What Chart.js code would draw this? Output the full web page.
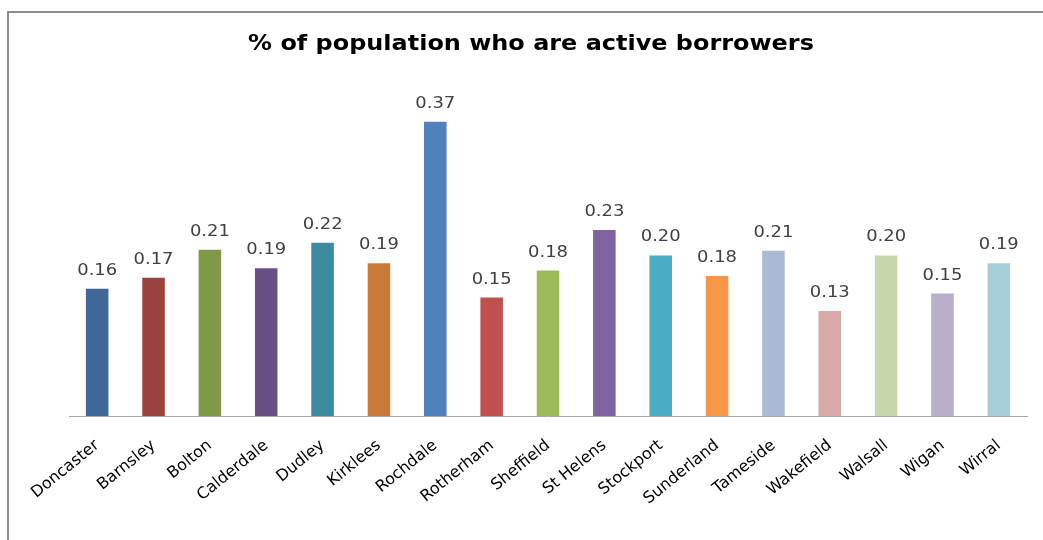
<!DOCTYPE html>
<html>
<head>
<meta charset="utf-8">
<script src="https://cdn.jsdelivr.net/npm/chart.js@4.4.0/dist/chart.umd.min.js"></script>
<style>
  html, body { margin: 0; padding: 0; background: #ffffff; overflow: hidden; }
  #wrap { position: relative; width: 1043px; height: 540px; }
  #frame { position: absolute; left: 7px; top: 11px; width: 1200px; height: 700px;
           border: 2px solid #8c8c8c; pointer-events: none; box-sizing: border-box; }
  canvas { position: absolute; left: 0; top: 0; }
</style>
</head>
<body>
<div id="wrap">
  <canvas id="c" width="1043" height="540"></canvas>
  <div id="frame"></div>
</div>
<script>
const chartTitle = "% of population who are active borrowers";
const categories = ["Doncaster", "Barnsley", "Bolton", "Calderdale", "Dudley", "Kirklees",
  "Rochdale", "Rotherham", "Sheffield", "St Helens", "Stockport", "Sunderland",
  "Tameside", "Wakefield", "Walsall", "Wigan", "Wirral"];
const values = [0.160, 0.174, 0.209, 0.186, 0.218, 0.192,
  0.370, 0.149, 0.183, 0.234, 0.202, 0.176,
  0.208, 0.132, 0.202, 0.154, 0.192];
const barColors = ["#3F6797", "#9C413E", "#7E9A48", "#674F85", "#3C8BA0", "#CB7A38",
  "#4F81BD", "#C0504D", "#9BBB59", "#8064A2", "#4BACC6", "#F79646",
  "#AABAD7", "#D9A9A8", "#C7D6AB", "#B9AECA", "#A8CEDC"];
const yMin = 0, yMax = 0.4;

const titleDraw = {
  id: 'titleDraw',
  afterDraw(chart) {
    const ctx = chart.ctx;
    ctx.save();
    ctx.font = 'bold 21px "DejaVu Sans"';
    ctx.fillStyle = '#000000';
    ctx.textAlign = 'center';
    ctx.textBaseline = 'alphabetic';
    ctx.translate(531, 50);
    ctx.scale(1.14, 1);
    ctx.fillText(chartTitle, 0, 0);
    ctx.restore();
  }
};

const valueLabels = {
  id: 'valueLabels',
  afterDatasetsDraw(chart) {
    const ctx = chart.ctx;
    const meta = chart.getDatasetMeta(0);
    ctx.save();
    ctx.font = '16px "DejaVu Sans"';
    ctx.fillStyle = '#404040';
    ctx.textAlign = 'center';
    ctx.textBaseline = 'alphabetic';
    meta.data.forEach((bar, i) => {
      ctx.save();
      ctx.translate(bar.x, bar.y - 14);
      ctx.scale(1.12, 1);
      ctx.fillText(values[i].toFixed(2), 0, 0);
      ctx.restore();
    });
    ctx.restore();
  }
};

new Chart(document.getElementById('c'), {
  type: 'bar',
  data: {
    labels: categories,
    datasets: [{
      data: values,
      backgroundColor: barColors,
      borderWidth: 0,
      barPercentage: 0.8,
      categoryPercentage: 0.5
    }]
  },
  options: {
    responsive: false,
    animation: false,
    devicePixelRatio: 1,
    layout: { padding: { left: 69, right: 16, top: 98, bottom: 0 } },
    plugins: {
      legend: { display: false },
      tooltip: { enabled: false },
      title: { display: false }
    },
    scales: {
      x: {
        grid: { display: false },
        border: { display: true, color: '#a6a6a6', width: 1 },
        ticks: {
          color: '#000000',
          font: { family: '"DejaVu Sans"', size: 16 },
          minRotation: 39,
          maxRotation: 39,
          autoSkip: false,
          padding: 12
        },
        afterFit(scale) { scale.height = 124; }
      },
      y: {
        display: false,
        min: yMin,
        max: yMax
      }
    }
  },
  plugins: [valueLabels, titleDraw]
});
</script>
</body>
</html>
